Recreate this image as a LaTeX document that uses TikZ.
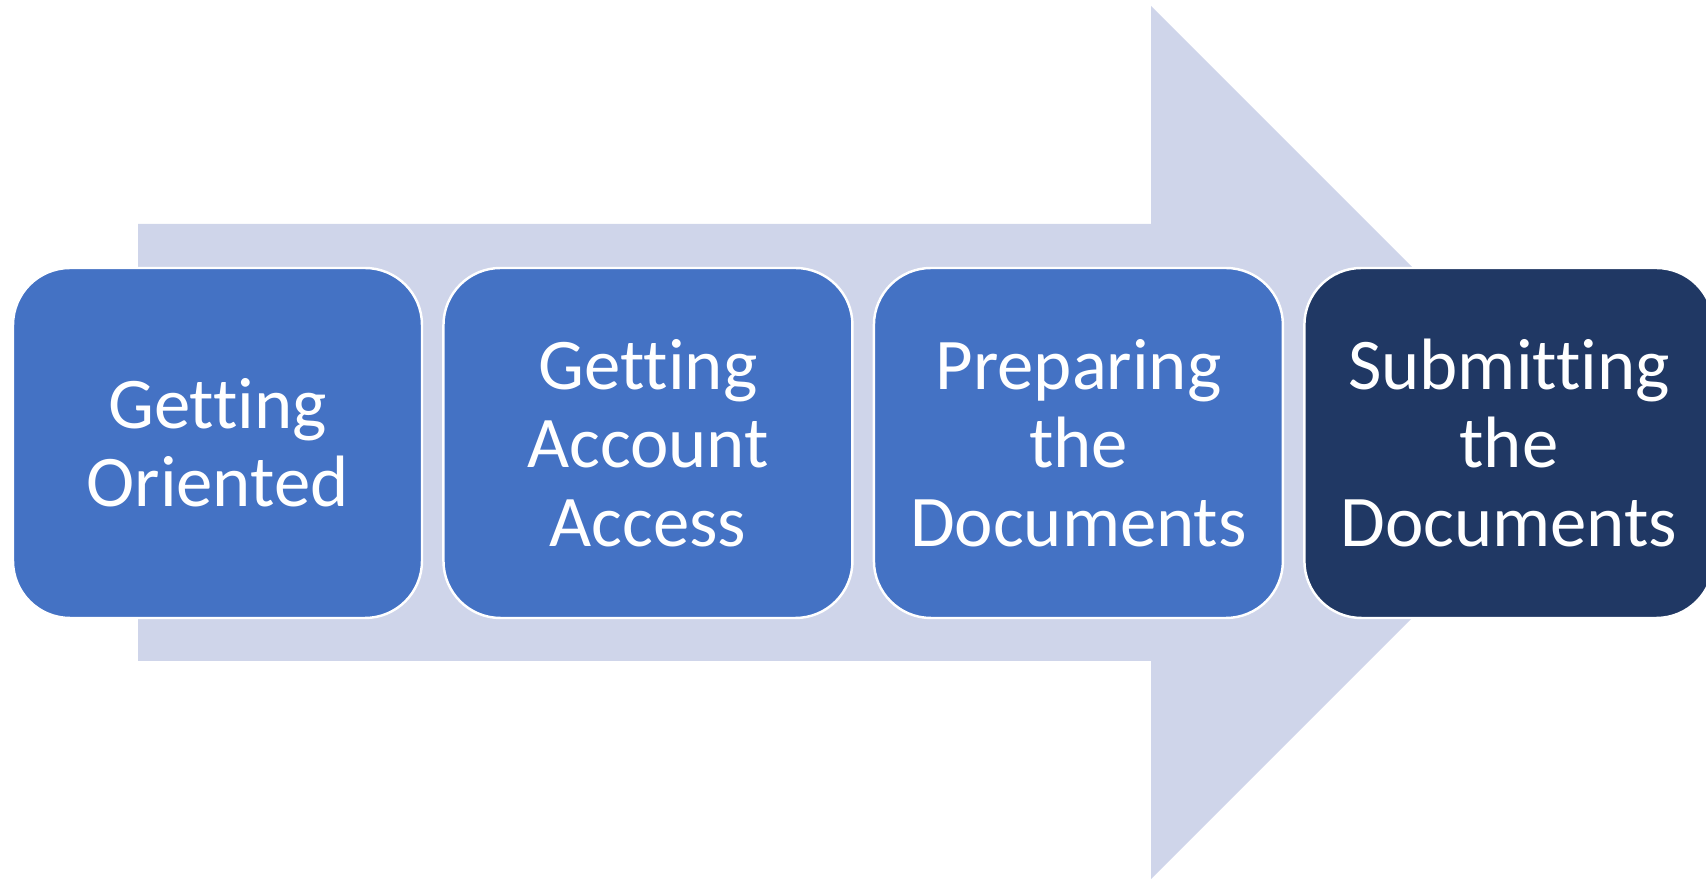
\documentclass[tikz,border=0pt]{standalone}
\usepackage{fontspec}
\setmainfont[Ligatures=NoCommon]{Carlito}
\usepackage{tikz}
\usetikzlibrary{positioning}
\definecolor{stepblue}{HTML}{4472C4}
\definecolor{stepnavy}{HTML}{203864}
\definecolor{arrowgray}{HTML}{CFD5EA}
\tikzset{
node distance=0.19cm, % gap between two neighbouring steps
stepbox/.style={draw=white, line width=0.7pt, fill=stepblue, rounded corners=0.57cm,
  minimum width=4.09cm, minimum height=3.5cm, text=white, align=center,
  font=\fontsize{20.7}{22.3}\selectfont}, % sets the properties for each step
laststep/.style={stepbox, fill=stepnavy}, % the final step is darker
}
\def\bigarrow{(1.38,6.57) -- (11.51,6.57) -- (11.51,8.75) -- (15.875,4.385)
  -- (11.51,0.02) -- (11.51,2.20) -- (1.38,2.20) -- cycle}

\begin{document}
\begin{tikzpicture}
    \useasboundingbox (0,0) rectangle (17.06,8.81);
    \fill[arrowgray] \bigarrow;

    %the four steps
    \node[stepbox] (oriented) at (2.175,4.38) {Getting\\Oriented};
    \node[stepbox, right=of oriented] (access) {Getting\\Account\\Access};
    \node[stepbox, right=of access] (prepare) {Preparing\\the\\Documents};
    \node[laststep, right=of prepare] (submit) {Submitting\\the\\Documents};
\end{tikzpicture}
\end{document}
